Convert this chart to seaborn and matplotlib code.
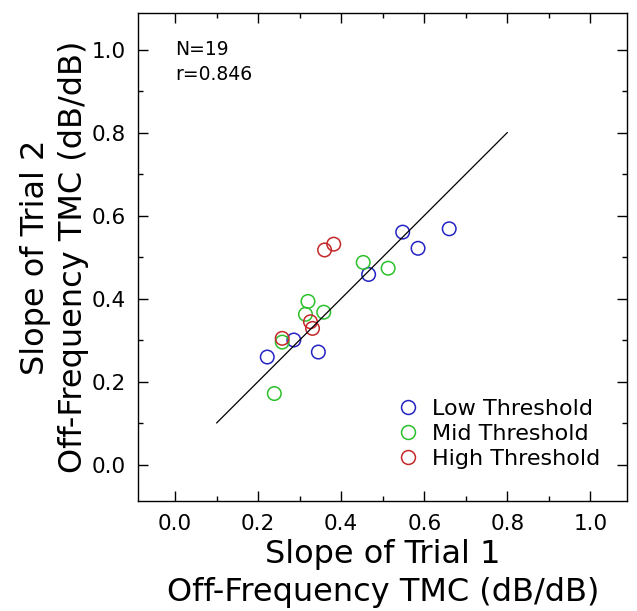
import numpy as np
import pandas as pd
import seaborn as sns
import matplotlib
matplotlib.use("Agg")
import matplotlib.pyplot as plt
from matplotlib.ticker import MultipleLocator

# --- data -------------------------------------------------------------------
low_trial1 = [0.222, 0.286, 0.345, 0.466, 0.548, 0.585, 0.660]
low_trial2 = [0.259, 0.300, 0.271, 0.458, 0.560, 0.521, 0.568]

mid_trial1 = [0.239, 0.258, 0.314, 0.320, 0.358, 0.453, 0.513]
mid_trial2 = [0.171, 0.295, 0.362, 0.393, 0.367, 0.487, 0.473]

high_trial1 = [0.258, 0.326, 0.331, 0.360, 0.382]
high_trial2 = [0.304, 0.344, 0.328, 0.517, 0.531]

groups = ["Low Threshold", "Mid Threshold", "High Threshold"]
group_colors = ["#2424c4", "#2cc02c", "#c42828"]

fit_x = [0.1, 0.8]
fit_y = [0.1, 0.8]

n_subjects = 19
r_value = 0.846

ticks = [0.0, 0.2, 0.4, 0.6, 0.8, 1.0]

# --- build one table for seaborn --------------------------------------------
df = pd.DataFrame({
    "trial1": low_trial1 + mid_trial1 + high_trial1,
    "trial2": low_trial2 + mid_trial2 + high_trial2,
    "group": [groups[0]] * len(low_trial1)
             + [groups[1]] * len(mid_trial1)
             + [groups[2]] * len(high_trial1),
})

sns.set_style("ticks")
plt.rcParams["font.family"] = ["DejaVu Sans"]
plt.rcParams["text.color"] = "black"
plt.rcParams["axes.labelcolor"] = "black"
plt.rcParams["xtick.color"] = "black"
plt.rcParams["ytick.color"] = "black"

fig = plt.figure(figsize=(6.37, 6.11), dpi=100)
ax = fig.add_axes([0.2174, 0.18, 0.7669, 0.7987])

sns.lineplot(x=fit_x, y=fit_y, color="black", linewidth=0.9, ax=ax)

sns.scatterplot(data=df, x="trial1", y="trial2", hue="group",
                hue_order=groups, palette=group_colors,
                s=95, linewidth=1.1, ax=ax, legend=False)
# hollow circles: edge colour from the palette
for coll in ax.collections:
    fc = coll.get_facecolors()
    coll.set_edgecolors(fc)
    coll.set_facecolors("none")

# legend drawn with proxy handles
handles = [plt.Line2D([], [], marker="o", linestyle="none", markersize=10,
                      markerfacecolor="none", markeredgecolor=c,
                      markeredgewidth=1.1) for c in group_colors]
ax.legend(handles, groups, loc="upper left", bbox_to_anchor=(0.525, 0.210),
          frameon=False, fontsize=16, handletextpad=0.45, labelspacing=0.24,
          borderpad=0, borderaxespad=0, handlelength=1.2)

ax.text(0.0, 1.0, f"N={n_subjects}", fontsize=13.5, va="center", ha="left")
ax.text(0.0, 0.94, f"r={r_value:.3f}", fontsize=13.5, va="center", ha="left")

ax.set_xlim(-0.088, 1.088)
ax.set_ylim(-0.088, 1.088)
ax.set_xticks(ticks)
ax.set_yticks(ticks)
ax.set_xticklabels([f"{t:.1f}" for t in ticks])
ax.set_yticklabels([f"{t:.1f}" for t in ticks])
ax.xaxis.set_minor_locator(MultipleLocator(0.1))
ax.yaxis.set_minor_locator(MultipleLocator(0.1))
ax.tick_params(which="both", direction="in", top=True, right=True,
               labelsize=15.5, width=1.0, color="black")
ax.tick_params(which="major", length=7.5, pad=9)
ax.tick_params(which="minor", length=3.5)
for sp in ax.spines.values():
    sp.set_linewidth(1.0)
    sp.set_color("black")

ax.set_xlabel("Slope of Trial 1\nOff-Frequency TMC (dB/dB)", fontsize=23,
              linespacing=1.3, labelpad=4)
ax.set_ylabel("Slope of Trial 2\nOff-Frequency TMC (dB/dB)", fontsize=23,
              linespacing=1.3, labelpad=2)

fig.savefig("out.png", dpi=100)
